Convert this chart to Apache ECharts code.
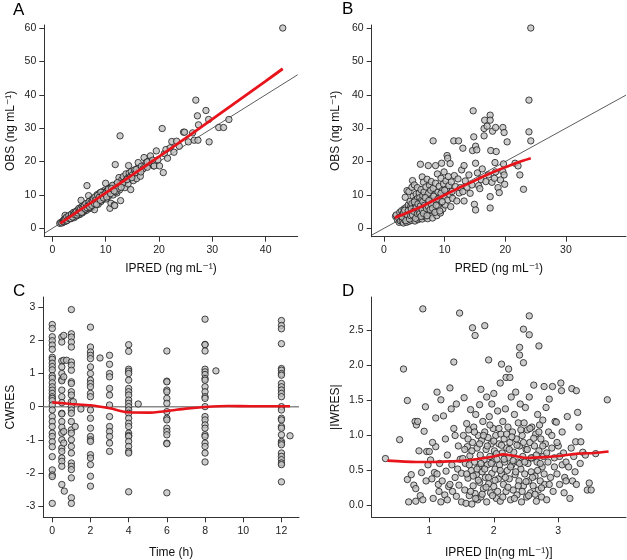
<!DOCTYPE html>
<html>
<head>
<meta charset="utf-8">
<script src="https://cdn.jsdelivr.net/npm/echarts@6/dist/echarts.min.js"></script>
<style>
  html, body { margin: 0; padding: 0; background: #fff; }
  #chart { width: 627px; height: 560px; }
</style>
</head>
<body>
<div id="chart"></div>
<script>
// Panel A: IPRED vs OBS
const obsIpred = [
  [1.4,1.5],[1.6,1.8],[1.8,1.6],[2.0,2.2],[2.1,1.9],[2.2,2.6],[2.3,2.1],[2.4,3.9],[2.5,2.4],[2.6,2.9],
  [2.7,2.5],[2.8,3.2],[2.9,2.7],[3.0,3.4],[3.0,2.8],[3.1,3.0],[3.2,3.6],[3.3,3.1],[3.4,3.8],[3.5,3.3],
  [3.5,2.9],[3.6,4.0],[3.7,3.5],[3.8,4.2],[3.9,3.6],[4.0,4.4],[4.0,3.8],[4.1,3.2],[4.2,4.6],[4.3,4.0],
  [4.4,4.9],[4.5,4.2],[4.5,3.7],[4.6,5.0],[4.7,4.4],[4.8,5.3],[4.9,4.6],[5.0,5.5],[5.0,4.8],[5.1,4.1],
  [5.2,5.7],[5.3,5.0],[5.4,8.4],[5.4,6.0],[5.5,5.2],[5.6,4.6],[5.7,6.2],[5.8,5.5],[5.9,6.8],[6.0,5.8],
  [6.0,5.1],[6.1,6.5],[6.2,7.2],[6.3,6.0],[6.4,5.4],[6.5,12.8],[6.5,7.0],[6.6,6.3],[6.7,7.6],[6.8,9.8],
  [6.8,6.6],[6.9,5.9],[7.0,7.4],[7.1,6.8],[7.2,8.1],[7.3,7.0],[7.4,8.6],[7.5,6.3],[7.6,7.9],[7.7,7.3],
  [7.8,8.8],[7.9,5.6],[8.0,8.5],[8.1,7.6],[8.2,9.3],[8.3,8.0],[8.4,10.1],[8.5,8.6],[8.6,7.2],[8.7,9.6],
  [8.8,8.9],[8.9,10.6],[9.0,9.2],[9.1,8.0],[9.2,10.0],[9.3,9.5],[9.4,11.0],[9.5,8.7],[9.6,10.4],[9.8,9.8],
  [9.9,11.5],[10.0,13.5],[10.0,10.2],[10.1,8.8],[10.2,11.2],[10.4,10.6],[10.5,9.5],[10.6,12.0],[10.8,6.0],[10.8,11.0],
  [11.0,12.3],[11.0,7.5],[11.2,11.6],[11.4,10.0],[11.5,12.8],[11.6,7.0],[11.7,6.8],[11.8,19.1],[11.8,12.2],[12.0,13.2],
  [12.1,10.6],[12.3,12.7],[12.5,15.2],[12.6,11.5],[12.7,27.7],[12.8,13.6],[12.8,8.3],[13.0,14.5],[13.1,12.8],[13.3,15.5],
  [13.4,13.8],[13.6,12.2],[13.8,16.3],[13.9,14.5],[14.1,15.0],[14.2,13.3],[14.3,18.8],[14.4,16.6],[14.6,15.4],[14.7,11.6],
  [14.8,17.0],[15.0,16.0],[15.2,14.3],[15.4,17.5],[15.6,16.6],[15.8,14.9],[16.0,18.0],[16.1,19.7],[16.3,17.3],[16.5,15.6],
  [16.7,18.6],[17.0,17.8],[17.2,21.2],[17.4,19.0],[17.6,19.7],[17.8,18.3],[18.1,20.2],[18.4,21.7],[18.6,19.5],[19.0,18.7],
  [19.1,18.7],[19.5,23.2],[19.8,20.5],[20.1,18.7],[20.6,29.9],[20.8,16.7],[21.0,22.4],[21.3,23.6],[21.6,21.0],[22.1,24.1],
  [22.4,26.0],[22.8,22.8],[23.3,26.1],[23.8,24.6],[24.6,28.8],[24.8,28.8],[25.5,25.9],[26.3,28.6],[26.6,26.4],[26.9,38.4],
  [27.2,33.7],[27.3,26.4],[27.4,31.0],[28.8,35.3],[29.3,32.6],[29.4,25.9],[31.2,30.2],[32.1,30.2],[33.1,32.6],[43.2,60.0],
  [2.2,2.0],[2.6,2.2],[2.9,3.3],[3.3,3.5],[3.6,3.2],[3.9,4.4],[4.2,3.9],[4.4,4.3],[4.7,5.4],[4.9,4.1],
  [5.2,5.3],[5.5,6.4],[5.7,5.0],[5.9,5.6],[6.1,5.6],[6.3,6.9],[6.6,7.3],[6.9,7.1],[7.1,6.2],[7.3,7.8],
  [7.6,7.0],[7.9,8.2],[8.1,9.0],[8.4,7.8],[8.7,8.4],[9.0,9.9],[9.3,8.6],[9.7,10.7],[10.3,10.0],[10.7,11.5],
  [11.3,12.9],[11.9,11.0],[12.4,12.0],[13.2,13.6],[14.0,14.6],[14.9,15.2],[15.7,17.6],[16.6,16.9],[17.8,19.9],[18.8,20.4],
  [2.3,2.7],[2.5,3.0],[2.7,3.4],[2.8,2.4],[3.1,3.8],[3.2,2.9],[3.4,3.0],[3.6,4.3],[3.8,3.4],[4.0,4.8],
  [4.1,4.2],[4.3,4.7],[4.5,5.0],[4.6,4.0],[4.8,4.6],[5.0,6.0],[5.1,5.2],[5.3,5.9],[5.5,4.8],[5.6,6.6],
  [5.8,6.3],[6.0,6.9],[6.2,5.8],[6.3,7.4],[6.5,6.2],[6.7,6.9],[6.9,8.0],[7.0,6.4],[7.2,7.5],[7.4,6.9],
  [7.5,8.3],[7.7,8.9],[7.9,7.4],[8.0,9.4],[8.2,8.6],[8.3,7.2],[8.5,9.9],[8.8,9.3],[9.0,8.4],[9.1,10.8],
  [9.4,9.9],[9.6,9.1],[9.9,10.3],[10.2,9.4],[10.5,11.7],[10.9,10.4],[11.1,11.9],[11.6,11.2],[12.2,13.7],[12.9,12.3]
];
const smoothIpred = [[1.5,1.5],[5,5.3],[10,10.6],[15,16.0],[20,21.5],[25,27.0],[30,32.7],[35,38.4],[40,44.1],[43.2,47.8]];
const identityA = [[-1.5,-1.5],[46,46]];

// Panel B: PRED vs OBS
const obsPred = [
  [1.9,3.6],[2.0,4.0],[2.2,2.6],[2.4,3.1],[2.5,1.8],[2.6,4.8],[2.7,2.2],[2.8,3.5],[2.9,5.3],[3.0,2.0],
  [3.1,4.2],[3.2,1.6],[3.3,3.0],[3.3,5.8],[3.4,2.5],[3.5,9.3],[3.5,4.5],[3.6,6.2],[3.7,1.8],[3.7,3.4],
  [3.8,11.3],[3.9,5.0],[3.9,2.7],[4.0,7.0],[4.0,3.9],[4.1,11.0],[4.1,2.1],[4.2,5.6],[4.3,8.1],[4.3,3.2],
  [4.4,6.5],[4.4,4.6],[4.5,2.4],[4.6,12.3],[4.6,7.4],[4.7,14.3],[4.7,5.2],[4.8,3.7],[4.8,9.6],[4.9,2.9],
  [4.9,6.0],[5.0,13.0],[5.0,4.3],[5.1,8.4],[5.1,2.2],[5.2,7.1],[5.2,5.5],[5.3,10.3],[5.3,3.5],[5.4,4.8],
  [5.4,6.6],[5.5,12.2],[5.5,8.9],[5.6,2.6],[5.6,5.9],[5.7,7.8],[5.7,4.1],[5.8,10.6],[5.8,6.9],[5.9,3.0],
  [5.9,9.2],[6.0,19.2],[6.0,5.3],[6.1,7.5],[6.1,11.6],[6.2,4.6],[6.2,8.4],[6.3,15.4],[6.3,2.8],[6.4,6.1],
  [6.4,9.8],[6.5,13.8],[6.5,7.2],[6.6,4.0],[6.6,10.9],[6.7,5.6],[6.8,8.0],[6.8,3.4],[6.9,12.4],[6.9,6.5],
  [7.0,9.3],[7.0,4.8],[7.1,14.7],[7.2,7.7],[7.2,2.9],[7.3,18.8],[7.3,10.4],[7.4,6.0],[7.5,12.9],[7.5,8.6],
  [7.6,4.2],[7.7,11.4],[7.7,7.0],[7.8,14.0],[7.9,5.3],[7.9,9.0],[8.0,3.1],[8.1,26.2],[8.1,12.0],[8.2,7.6],
  [8.3,10.0],[8.4,5.6],[8.5,18.8],[8.5,13.5],[8.6,8.3],[8.7,3.8],[8.8,16.3],[8.9,10.8],[9.0,6.5],[9.1,12.6],
  [9.2,9.2],[9.3,4.6],[9.4,15.0],[9.5,19.5],[9.5,7.8],[9.6,11.3],[9.7,5.8],[9.8,13.3],[9.9,16.9],[10.0,9.6],
  [10.1,7.0],[10.2,14.2],[10.3,11.8],[10.4,21.8],[10.5,21.0],[10.5,8.5],[10.6,15.5],[10.7,12.8],[10.8,10.1],[10.9,19.4],
  [11.0,6.5],[11.1,13.9],[11.2,11.0],[11.3,9.0],[11.5,26.2],[11.6,15.8],[11.8,12.5],[12.0,8.2],[12.2,14.8],[12.3,26.2],
  [12.4,10.6],[12.6,12.2],[12.8,17.5],[13.0,24.0],[13.0,11.0],[13.2,8.2],[13.2,18.8],[13.4,14.2],[13.7,12.3],[14.0,16.0],
  [14.2,10.5],[14.5,13.0],[14.6,23.3],[14.7,35.2],[14.8,27.4],[14.9,7.2],[15.1,24.6],[15.1,19.5],[15.1,5.5],[15.3,23.5],
  [15.4,16.6],[15.6,12.8],[15.8,11.9],[16.0,14.6],[16.2,17.8],[16.5,29.9],[16.5,27.7],[16.6,32.4],[16.8,14.0],[17.0,30.6],
  [17.2,16.0],[17.5,33.9],[17.5,32.4],[17.5,9.5],[17.5,6.1],[17.6,23.3],[17.8,13.8],[17.9,29.1],[18.2,15.0],[18.3,19.7],
  [18.4,30.2],[18.4,16.9],[18.5,23.0],[18.8,12.2],[19.0,10.7],[19.2,14.5],[19.6,30.2],[19.6,17.0],[19.7,19.3],[19.8,28.7],
  [19.8,16.0],[19.9,13.2],[20.3,25.9],[21.6,19.5],[22.1,18.7],[22.4,16.0],[23.0,11.7],[23.9,38.4],[23.9,28.9],[24.2,26.2],
  [24.2,60.0],
  [3.0,3.4],[3.2,4.6],[3.4,5.4],[3.6,2.3],[3.8,4.1],[4.0,5.3],[4.2,2.8],[4.4,3.8],[4.5,5.8],[4.7,4.0],
  [4.9,5.1],[5.0,7.9],[5.2,3.0],[5.3,6.2],[5.5,4.4],[5.6,7.3],[5.8,5.0],[5.9,4.4],[6.0,6.7],[6.1,3.6],
  [6.3,5.5],[6.4,8.0],[6.5,4.5],[6.7,6.9],[6.8,9.2],[7.0,5.9],[7.1,3.8],[7.3,6.6],[7.4,8.3],[7.6,5.6],
  [7.8,7.3],[8.0,6.0],[8.2,9.6],[8.4,4.8],[8.6,6.9],[8.9,8.8],[9.2,5.2],[9.4,10.5],[9.6,8.0],[10.0,11.4]
];
const smoothPred = [[1.8,3.2],[4,4.8],[6,6.4],[8,8.2],[10,10.0],[12,11.8],[14,13.5],[16,15.2],[18,16.9],[20,18.3],[22,19.7],[24.2,21.0]];
const identityB = [[-2,-2],[39.9,39.9]];

// Panel C: time vs CWRES
const cwresTime = [
  [0,2.48],[0,2.36],[0,2.11],[0,1.99],[0,1.86],[0,1.73],[0,1.49],[0,1.43],[0,1.31],[0,1.21],
  [0,1.11],[0,0.93],[0,0.86],[0,0.72],[0,0.6],[0,0.5],[0,0.4],[0,0.3],[0,0.25],[0,0.18],
  [0,0.05],[0,-0.1],[0,-0.3],[0,-0.45],[0,-0.6],[0,-0.8],[0,-0.9],[0,-1.06],[0,-1.21],[0,-1.51],
  [0,-1.91],[0,-2.06],[0,-2.11],[0,-2.92],
  [0.5,2.1],[0.5,1.95],[0.5,1.38],[0.5,1.2],[0.5,1.0],[0.5,0.82],[0.5,0.78],[0.5,0.5],[0.5,0.3],[0.5,0.12],
  [0.5,-0.2],[0.5,-0.22],[0.5,-0.45],[0.5,-0.62],[0.5,-0.8],[0.5,-1.0],[0.5,-1.25],[0.5,-1.35],[0.5,-1.55],[0.5,-1.65],
  [0.5,-1.8],[0.5,-2.35],[0.6,2.15],[0.6,1.4],[0.6,0.9],[0.6,-0.75],[0.6,-1.1],[0.63,-2.55],[0.75,1.4],
  [1,2.93],[1,2.2],[1,2.1],[1,1.95],[1,1.8],[1,1.35],[1,1.25],[1,1.1],[1,0.75],[1,0.7],
  [1,0.45],[1,0.35],[1,0.15],[1,0.0],[1,-0.1],[1,-0.2],[1,-0.45],[1,-0.7],[1,-0.8],[1,-1.0],
  [1,-1.2],[1,-1.4],[1,-1.7],[1,-1.8],[1,-1.9],[1,-2.15],[1,-2.75],[1,-2.92],[1.1,0.15],[1.2,-0.6],
  [1.5,-0.07],
  [2,2.4],[2,1.8],[2,1.65],[2,1.55],[2,1.45],[2,1.2],[2,1.0],[2,0.8],[2,0.7],[2,0.6],
  [2,0.4],[2,0.3],[2,-0.1],[2,-0.35],[2,-0.65],[2,-0.9],[2,-1.0],[2,-1.05],[2,-1.45],[2,-1.55],
  [2,-1.75],[2,-2.1],[2,-2.4],[2.5,1.47],
  [3,1.55],[3,1.28],[3,1.0],[3,0.9],[3,0.55],[3,0.35],[3,0.05],[3,-0.3],[3,-0.6],[3,-0.75],
  [3,-0.9],[3,-1.1],[3,-1.35],
  [4,1.87],[4,1.67],[4,1.13],[4,1.07],[4,1.0],[4,0.8],[4,0.55],[4,0.45],[4,0.35],[4,0.2],
  [4,0.1],[4,0.0],[4,-0.1],[4,-0.2],[4,-0.35],[4,-0.5],[4,-0.6],[4,-0.8],[4,-0.87],[4,-0.9],
  [4,-1.05],[4,-1.2],[4,-1.35],[4,-1.4],[4,-2.57],[4.5,0.08],
  [6,1.68],[6,0.77],[6,0.75],[6,0.5],[6,0.45],[6,0.25],[6,0.1],[6,-0.15],[6,-0.35],[6,-0.4],
  [6,-0.65],[6,-0.75],[6,-0.85],[6,-1.1],[6,-1.12],[6,-2.6],
  [8,2.64],[8,1.88],[8,1.87],[8,1.68],[8,1.13],[8,1.05],[8,0.97],[8,0.85],[8,0.8],[8,0.6],
  [8,0.45],[8,0.3],[8,0.25],[8,0.0],[8,-0.3],[8,-0.4],[8,-0.55],[8,-0.65],[8,-0.85],[8,-0.9],
  [8,-1.1],[8,-1.2],[8,-1.4],[8,-1.67],[8.57,1.08],
  [12,2.6],[12,2.45],[12,2.35],[12,1.9],[12,1.15],[12,1.1],[12,1.0],[12,0.95],[12,0.7],[12,0.6],
  [12,0.5],[12,0.4],[12,0.3],[12,0.0],[12,-0.1],[12,-0.35],[12,-0.4],[12,-0.6],[12,-0.65],[12,-0.85],
  [12,-1.05],[12,-1.1],[12,-1.15],[12,-1.4],[12,-1.5],[12,-1.6],[12,-1.7],[12,-1.75],[12,-2.27],[12.45,-0.88]
];
const smoothTime = [[0,0.13],[1,0.08],[2,0.04],[3,-0.05],[4,-0.17],[5,-0.18],[6,-0.13],[7,-0.06],[8,-0.01],[9.2,0.02],[10.5,0.01],[12.45,0.01]];
const zeroLine = [[-0.47,0],[12.92,0]];

// Panel D: ln(IPRED) vs |IWRES|
const iwresIpred = [
  [0.32,0.67],[0.54,0.94],[0.60,1.95],[0.66,1.50],[0.66,0.37],[0.68,0.05],[0.72,0.44],[0.76,0.29],[0.78,1.20],[0.79,0.24],
  [0.79,0.06],[0.80,1.15],[0.82,1.20],[0.84,0.78],[0.86,0.14],[0.88,0.47],[0.90,2.81],[0.90,0.08],[0.92,1.06],[0.94,1.41],
  [0.96,0.77],[0.98,0.58],
  [1.00,0.77],[1.02,0.65],[1.04,0.38],[1.06,0.10],[1.08,0.47],[1.10,0.84],[1.10,1.25],[1.12,1.62],[1.12,0.45],[1.14,0.30],
  [1.16,0.60],[1.18,1.51],[1.18,0.05],[1.20,0.35],[1.22,1.28],[1.24,0.15],[1.26,0.49],[1.28,0.72],[1.30,0.27],[1.32,1.68],
  [1.32,0.30],[1.34,1.38],[1.36,0.20],[1.38,2.05],[1.38,1.10],[1.40,1.00],[1.40,0.40],[1.42,0.13],[1.44,0.52],[1.46,0.29],
  [1.47,2.75],[1.48,0.66],[1.50,0.46],[1.50,0.05],
  [1.52,0.67],[1.53,1.00],[1.54,1.54],[1.55,0.22],[1.56,0.60],[1.57,0.03],[1.58,1.17],[1.59,0.84],[1.60,0.39],[1.61,1.08],
  [1.62,0.14],[1.63,0.71],[1.64,1.37],[1.65,0.50],[1.66,0.02],[1.67,2.54],[1.67,0.90],[1.68,0.28],[1.69,1.12],[1.70,0.62],
  [1.71,2.43],[1.71,0.17],[1.72,1.30],[1.73,0.44],[1.74,0.82],[1.75,0.08],[1.76,1.00],[1.77,0.55],[1.78,1.44],[1.78,0.33],
  [1.79,0.72],[1.80,1.66],[1.80,0.12],[1.81,0.93],[1.82,0.48],[1.83,1.20],[1.84,0.24],[1.85,0.65],[1.86,2.57],[1.86,1.05],
  [1.87,0.40],[1.88,0.80],[1.89,1.55],[1.89,0.05],[1.90,0.58],[1.91,0.97],[1.92,2.08],[1.92,0.31],[1.93,1.27],[1.94,0.70],
  [1.95,0.18],[1.96,0.88],[1.97,1.45],[1.97,0.46],[1.98,0.62],[1.99,1.10],[2.00,0.27],[2.00,1.60],
  [2.01,0.78],[2.02,0.52],[2.03,1.00],[2.04,0.10],[2.05,0.66],[2.06,1.35],[2.07,0.38],[2.08,0.88],[2.09,0.58],[2.10,1.75],
  [2.10,0.06],[2.11,1.02],[2.12,2.02],[2.12,0.45],[2.13,0.75],[2.14,1.20],[2.15,0.30],[2.16,0.95],[2.17,0.62],[2.18,1.38],
  [2.19,1.83],[2.19,0.20],[2.20,0.82],[2.21,0.50],[2.22,1.12],[2.23,1.95],[2.23,0.68],[2.24,0.38],[2.25,1.83],[2.25,0.90],
  [2.26,0.08],[2.27,1.55],[2.28,0.58],[2.29,1.05],[2.30,0.22],[2.31,0.76],[2.32,1.30],[2.33,0.44],[2.34,1.62],[2.35,0.95],
  [2.36,0.15],[2.37,0.62],[2.38,1.18],[2.39,0.35],[2.40,2.26],[2.40,2.15],[2.40,0.85],[2.41,1.45],[2.42,0.52],[2.43,0.05],
  [2.44,1.00],[2.45,0.70],[2.46,2.52],[2.46,2.04],[2.46,0.28],[2.47,1.18],[2.48,0.45],[2.49,1.40],[2.50,0.80],
  [2.51,0.12],[2.52,1.08],[2.53,0.60],[2.54,0.35],[2.55,2.71],[2.55,2.44],[2.55,1.55],[2.56,0.90],[2.57,0.18],[2.58,0.48],
  [2.59,1.12],[2.60,0.68],[2.61,0.28],[2.62,1.72],[2.63,0.85],[2.64,0.42],[2.65,1.02],[2.66,0.06],[2.67,0.62],[2.68,1.30],
  [2.69,0.22],[2.70,2.28],[2.70,0.78],[2.71,1.15],[2.72,0.35],[2.73,0.95],[2.74,0.12],[2.75,0.55],[2.76,1.22],[2.77,0.70],
  [2.78,1.70],[2.79,0.30],[2.80,0.88],[2.81,1.40],[2.82,0.08],[2.84,0.62],[2.85,1.05],[2.86,1.52],[2.88,0.40],[2.90,0.82],
  [2.91,1.70],[2.92,0.20],[2.94,0.68],[2.95,1.20],[2.97,1.19],[2.98,0.45],
  [3.00,0.85],[3.02,0.30],[3.04,1.75],[3.05,1.64],[3.06,0.58],[3.08,0.75],[3.09,0.18],[3.10,0.40],[3.12,0.62],[3.14,1.27],
  [3.16,0.55],[3.18,0.10],[3.20,0.82],[3.21,1.67],[3.22,0.35],[3.24,0.70],[3.26,0.48],[3.27,0.91],[3.28,1.64],[3.28,0.30],
  [3.30,1.33],[3.32,1.12],[3.34,0.60],[3.35,0.91],[3.38,0.76],[3.42,0.72],[3.45,0.22],[3.48,0.32],[3.51,0.22],[3.58,0.74],
  [3.76,1.51],
  [1.55,0.80],[1.58,0.45],[1.60,0.95],[1.62,0.58],[1.64,0.20],[1.66,0.78],[1.68,0.42],[1.70,1.05],[1.72,0.10],[1.74,0.52],
  [1.76,0.36],[1.78,0.88],[1.80,0.60],[1.82,0.16],[1.84,1.00],[1.86,0.52],[1.88,0.26],[1.90,0.85],[1.92,0.40],[1.94,1.15],
  [1.96,0.60],[1.98,0.14],[2.00,0.92],[2.02,0.36],[2.04,0.74],[2.06,0.20],[2.08,1.10],[2.10,0.50],[2.12,0.86],[2.14,0.12],
  [2.16,0.66],[2.18,0.40],[2.20,1.02],[2.22,0.26],[2.24,0.80],[2.26,0.55],[2.28,0.98],[2.30,0.64],[2.32,0.10],[2.34,0.48],
  [2.36,0.86],[2.38,0.28],[2.40,0.60],[2.42,1.08],[2.44,0.20],[2.46,0.90],[2.48,0.62],[2.50,0.34],[2.52,0.80],[2.54,0.14],
  [2.56,1.10],[2.58,0.68],[2.60,0.40],[2.62,0.96],[2.64,0.16],[2.66,0.72],[2.68,0.50],[2.70,1.05],[2.72,0.60],[2.74,0.25],
  [2.76,0.85],[2.78,0.45],[2.82,0.75],[2.86,0.30],[2.90,1.00],[2.94,0.55],[2.98,0.90],[3.02,0.70],[3.06,1.05],[3.12,0.35],
  [1.05,0.90],[1.15,0.20],[1.25,0.95],[1.35,0.58],[1.45,0.85],[0.95,0.35],[1.28,0.08],[1.42,1.45]
];
const smoothLnIpred = [[0.35,0.64],[0.8,0.62],[1.0,0.62],[1.3,0.63],[1.55,0.64],[1.8,0.67],[2.0,0.70],[2.15,0.73],[2.3,0.71],[2.5,0.68],[2.8,0.69],[3.05,0.71],[3.3,0.74],[3.55,0.75],[3.78,0.77]];

// tick labels
const ticksObs = [0, 10, 20, 30, 40, 50, 60];
const ticksIpred = [0, 10, 20, 30, 40];
const ticksPred = [0, 10, 20, 30];
const ticksCwres = [-3, -2, -1, 0, 1, 2, 3];
const ticksTime = [0, 2, 4, 6, 8, 10, 12];
const ticksIwres = [0, 0.5, 1, 1.5, 2, 2.5];
const ticksLn = [1, 2, 3];

const font = "'Liberation Sans', Arial, 'DejaVu Sans', sans-serif";
const axisColor = '#333';

function valueAxis(gridIndex, min, max, ticks, name, nameGap, fmt) {
    return {
        type: 'value',
        gridIndex: gridIndex,
        min: min,
        max: max,
        name: name,
        nameLocation: 'middle',
        nameGap: nameGap,
        nameTextStyle: { fontSize: 12, fontFamily: font, color: '#111' },
        axisLine: { show: true, onZero: false, lineStyle: { color: axisColor, width: 1 } },
        axisTick: { show: true, length: 5, customValues: ticks, lineStyle: { color: axisColor } },
        axisLabel: {
            customValues: ticks, fontSize: 10.5, fontFamily: font, color: '#222', margin: 8,
            formatter: fmt || function (v) { return String(v); }
        },
        splitLine: { show: false }
    };
}

const pointStyle = { color: '#c0c0c0', borderColor: '#1a1a1a', borderWidth: 1 };

function scatter(idx, data) {
    return {
        type: 'scatter', xAxisIndex: idx, yAxisIndex: idx, data: data,
        symbolSize: 6.4, itemStyle: pointStyle, z: 2, silent: true
    };
}

function line(idx, data, color, width, z) {
    return {
        type: 'line', xAxisIndex: idx, yAxisIndex: idx, data: data,
        showSymbol: false, symbol: 'none', smooth: z === 3 ? 0.3 : false,
        lineStyle: { color: color, width: width }, z: z, silent: true
    };
}

const chart = echarts.init(document.getElementById('chart'));

const options = {
    animation: false,
    grid: [
        { left: 44.3, top: 25, width: 253.4, height: 211.7 },
        { left: 371.7, top: 25, width: 254.3, height: 211.7 },
        { left: 43.3, top: 297, width: 255.7, height: 220.3 },
        { left: 371.7, top: 297, width: 254.3, height: 220.3 }
    ],
    xAxis: [
        valueAxis(0, -1.5, 46.0, ticksIpred, 'IPRED (ng mL\u207B\u00B9)', 26),
        valueAxis(1, -2.03, 39.9, ticksPred, 'PRED (ng mL\u207B\u00B9)', 26),
        valueAxis(2, -0.47, 12.92, ticksTime, 'Time (h)', 29),
        valueAxis(3, 0.107, 4.05, ticksLn, 'IPRED [ln(ng mL\u207B\u00B9)]', 29)
    ],
    yAxis: [
        valueAxis(0, -2.5, 60.9, ticksObs, 'OBS (ng mL\u207B\u00B9)', 28),
        valueAxis(1, -2.5, 60.9, ticksObs, 'OBS (ng mL\u207B\u00B9)', 30),
        valueAxis(2, -3.34, 3.31, ticksCwres, 'CWRES', 27),
        valueAxis(3, -0.17, 2.98, ticksIwres, '|IWRES|', 30, function (v) { return v.toFixed(1); })
    ],
    graphic: [
        { type: 'text', left: 13, top: 2, style: { text: 'A', fontSize: 17, fontFamily: font, fill: '#000' } },
        { type: 'text', left: 342, top: 1, style: { text: 'B', fontSize: 17, fontFamily: font, fill: '#000' } },
        { type: 'text', left: 13, top: 283, style: { text: 'C', fontSize: 17, fontFamily: font, fill: '#000' } },
        { type: 'text', left: 342, top: 283, style: { text: 'D', fontSize: 17, fontFamily: font, fill: '#000' } }
    ],
    series: [
        line(0, identityA, '#333', 0.8, 1),
        scatter(0, obsIpred),
        line(0, smoothIpred, '#e8141b', 2.8, 3),
        line(1, identityB, '#333', 0.8, 1),
        scatter(1, obsPred),
        line(1, smoothPred, '#e8141b', 2.8, 3),
        line(2, zeroLine, '#8a8a8a', 1.5, 1),
        scatter(2, cwresTime),
        line(2, smoothTime, '#e8141b', 2.6, 3),
        scatter(3, iwresIpred),
        line(3, smoothLnIpred, '#e8141b', 2.6, 3)
    ]
};

chart.setOption(options);
</script>
</body>
</html>
